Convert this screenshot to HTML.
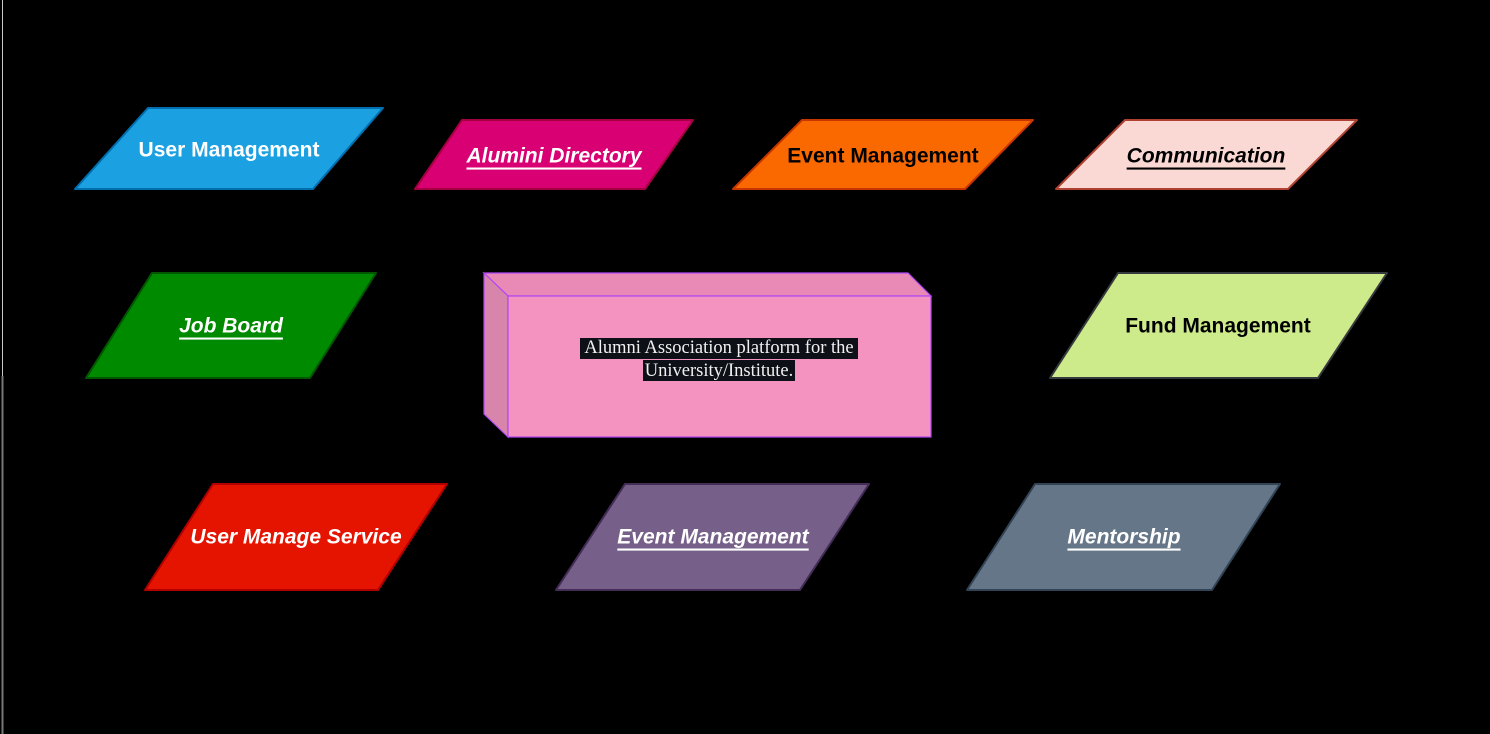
<!DOCTYPE html>
<html><head><meta charset="utf-8"><style>
html,body{margin:0;padding:0;background:#000;width:1490px;height:734px;overflow:hidden}
svg{display:block}
text{font-family:"Liberation Sans",Arial,sans-serif;font-weight:bold;font-size:21px;text-anchor:middle;dominant-baseline:central}
.i{font-style:italic;text-decoration:underline}
</style></head><body>
<svg width="1490" height="734" viewBox="0 0 1490 734" xmlns="http://www.w3.org/2000/svg">
<rect width="1490" height="734" fill="#000"/>
<line x1="2.5" y1="0" x2="2.5" y2="376" stroke="#c8c8c8" stroke-width="1"/>
<line x1="2.5" y1="376" x2="2.5" y2="734" stroke="#777" stroke-width="2"/>
<g stroke-width="2" stroke-linejoin="round">
<polygon points="148,108 383,108 313,189 75,189" fill="#1ba1e2" stroke="#006eaf"/>
<polygon points="462,120 693,120 645,189 415,189" fill="#d80073" stroke="#a50040"/>
<polygon points="802,120 1033,120 965,189 733,189" fill="#fa6800" stroke="#c73500"/>
<polygon points="1125,120 1357,120 1288,189 1056,189" fill="#fad9d5" stroke="#ae4132"/>
<polygon points="152,273 376,273 310,378 86,378" fill="#008a00" stroke="#005700"/>
<polygon points="1118,273 1387,273 1318,378 1050,378" fill="#cdeb8b" stroke="#36393d"/>
<polygon points="213,484 447,484 378,590 145,590" fill="#e51400" stroke="#b20000"/>
<polygon points="625,484 869,484 800,590 556,590" fill="#76608a" stroke="#432d57"/>
<polygon points="1035,484 1280,484 1212,590 967,590" fill="#647687" stroke="#314354"/>
</g>
<text x="229" y="150" fill="#fff">User Management</text>
<text x="554" y="156" fill="#fff" class="i">Alumini Directory</text>
<text x="883" y="156" fill="#000">Event Management</text>
<text x="1206" y="156" fill="#000" class="i">Communication</text>
<text x="231" y="326" fill="#fff" class="i">Job Board</text>
<text x="1218" y="326" fill="#000">Fund Management</text>
<text x="296" y="537" fill="#fff" font-style="italic">User Manage Service</text>
<text x="713" y="537" fill="#fff" class="i">Event Management</text>
<text x="1124" y="537" fill="#fff" class="i">Mentorship</text>
<g stroke="#b146f5" stroke-width="1.2">
<polygon points="484,273 908,273 931,296 508,296" fill="#e88ab5"/>
<polygon points="484,273 508,296 508,437 484,414" fill="#d885ab"/>
<rect x="508" y="296" width="423" height="141" fill="#f492c0"/>
</g>
<rect x="580" y="338" width="278" height="21" fill="#0d1117"/>
<rect x="643" y="360" width="152" height="21" fill="#0d1117"/>
<text x="719" y="348" fill="#f0f0f0" style="font-family:'Liberation Serif',serif;font-weight:normal;font-size:18.5px">Alumni Association platform for the</text>
<text x="719" y="371" fill="#f0f0f0" style="font-family:'Liberation Serif',serif;font-weight:normal;font-size:18.5px">University/Institute.</text>
</svg>
</body></html>
